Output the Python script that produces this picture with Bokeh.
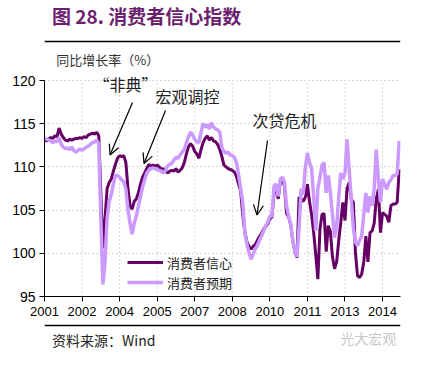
from bokeh.plotting import figure
from bokeh.layouts import column
from bokeh.models import Label, Arrow, OpenHead, Legend, LegendItem, FixedTicker, Range1d
from bokeh.embed import file_html
from bokeh.resources import INLINE

# ---- data (monthly, starting 2001-01) ----
tick_months = [0, 18, 36, 54, 72, 90, 108, 126, 144, 162]
tick_labels = ["2001", "2002", "2004", "2005", "2007", "2008", "2010", "2011", "2013", "2014"]
y_ticks = [95, 100, 105, 110, 115, 120]

confidence = [
    113.1, 113.0, 113.2, 113.4, 113.3, 113.6, 113.5, 114.5, 113.8, 113.4,
    113.1, 113.0, 113.2, 113.1, 113.2, 113.3, 113.3, 113.4, 113.3, 113.5,
    113.4, 113.7, 113.8, 113.9, 113.8, 114.0, 113.6, 107.0, 100.6, 104.0,
    107.5, 108.2, 108.6, 109.5, 110.3, 111.0, 111.3, 111.2, 111.3, 110.5,
    107.5, 105.5, 105.1, 106.0, 106.3, 107.0, 108.0, 108.8, 109.3, 109.8,
    110.3, 110.1, 110.2, 110.1, 110.2, 110.0, 109.7, 109.8, 109.5, 109.3,
    109.5, 109.6, 109.5, 109.8, 109.4, 109.6, 109.9, 110.5, 111.5, 112.3,
    112.7, 112.4, 111.8, 111.5, 111.0, 112.0, 112.8, 113.3, 113.6, 113.1,
    113.4, 113.0, 112.9, 112.6, 112.0, 111.2, 110.2, 110.0, 109.8, 109.7,
    109.6, 109.4, 108.9, 108.0, 107.2, 104.5, 102.5, 101.3, 100.8, 100.5,
    100.8, 101.0, 101.5, 101.9, 102.3, 102.8, 103.1, 103.4, 104.0, 104.2,
    107.0, 107.6, 106.3, 108.3, 108.5, 107.8, 104.6, 104.2, 103.3, 101.4,
    100.2, 99.5, 106.5, 106.3, 106.0, 106.5, 108.0, 106.0, 104.5, 102.4,
    99.8, 97.0, 102.8, 104.5, 104.6, 100.2, 103.2, 102.5, 99.6, 98.2,
    99.0, 101.5, 103.6, 105.9, 103.8, 107.5, 108.2, 106.3, 105.9, 100.1,
    97.4, 97.2, 97.6, 99.0, 102.0, 99.0, 102.4, 102.6, 103.5, 106.3,
    107.4, 102.4, 104.7, 104.5, 104.3, 103.6, 105.5, 105.7, 105.7, 105.9, 109.7,
]

expectation = [
    113.3, 113.2, 113.1, 113.0, 112.8, 113.0, 112.9, 113.4, 112.6, 112.3,
    112.1, 112.2, 112.0, 112.3, 111.9, 111.7, 111.9, 112.1, 111.9, 112.1,
    112.3, 112.4, 112.6, 112.8, 112.9, 113.1, 112.7, 104.0, 96.4, 99.0,
    104.0, 106.0, 106.8, 108.0, 109.0, 109.0, 108.8, 108.5, 108.3, 107.4,
    105.0, 103.5, 102.2, 103.5, 104.3, 105.5, 106.6, 107.7, 108.5, 109.3,
    109.6, 109.8, 109.9, 109.8, 109.7, 109.6, 109.5, 109.3, 109.6, 110.1,
    110.3, 110.4, 110.8, 111.1, 111.0, 111.4, 111.7, 112.0, 112.8, 113.5,
    114.0, 113.7, 113.2, 112.9, 112.8, 114.0, 115.0, 114.6, 114.9, 114.4,
    115.1, 114.6, 114.4, 114.3, 114.0, 112.2, 111.8, 111.6, 111.7, 111.4,
    111.3, 111.1, 110.5, 109.1, 107.5, 105.9, 102.5, 101.0, 100.1, 99.3,
    99.9, 100.5, 100.9, 101.5, 102.0, 102.6, 103.2, 103.6, 104.3, 104.3,
    107.8, 108.0, 106.6, 108.6, 108.8, 108.2, 105.5, 104.3, 103.4, 101.5,
    100.3, 99.6, 103.0, 107.5, 106.8, 110.0, 111.6, 110.5, 109.8, 106.5,
    102.6, 107.5, 108.8, 110.2, 110.5, 107.0, 109.0, 107.0, 104.5, 101.8,
    103.0, 106.5, 109.3, 108.6, 109.3, 113.2, 109.7, 106.3, 103.0, 101.3,
    100.9, 101.5, 102.0, 104.5, 107.0, 104.7, 106.6, 105.5, 107.5, 112.0,
    108.6, 105.9, 108.6, 108.0, 107.4, 108.2, 108.5, 109.0, 109.0, 109.2, 113.0,
]

months = list(range(len(confidence)))

DARK = "#660066"
LIGHT = "#CC99FF"
CJK = "Noto Sans CJK SC"
W = 427

# page-pixel geometry
FL, FR, FB = 52, 408, 304          # plot frame left/right/bottom (page px)
Y120 = 88                           # page y of the 120 line
MAIN_TOP, MAIN_BOT = 80, 331        # main figure vertical extent (page px)
X0, X1 = 0, 170.6
PX_PER_UNIT = (FB - Y120) / 25.0
Y_TOP = 120 + (Y120 - MAIN_TOP) / PX_PER_UNIT


def dx(px):
    return X0 + (px - FL) * (X1 - X0) / (FR - FL)


def dy(py):
    return 95 + (FB - py) / PX_PER_UNIT


def page_fig(top, bot):
    f = figure(width=W, height=bot - top, output_backend="svg", toolbar_location=None,
               x_range=Range1d(8, 8 + W), y_range=Range1d(bot, top),
               min_border=0, min_border_left=0, min_border_right=0,
               min_border_top=0, min_border_bottom=0)
    f.axis.visible = False
    f.grid.visible = False
    f.outline_line_color = None
    f.background_fill_color = "white"
    f.border_fill_color = "white"
    return f


# ---- header ----
head = page_fig(8, MAIN_TOP)
head.add_layout(Label(x=17, y=23, text="图 28.  消费者信心指数", text_font=CJK,
                      text_font_size="19px", text_font_style="bold", text_color="#6B1F6E",
                      text_baseline="middle", text_align="left"))
head.add_layout(Arrow(end=None, x_start=8, y_start=49, x_end=435, y_end=49,
                      line_color="black", line_width=1.5))
head.add_layout(Label(x=22, y=67, text="同比增长率（%）", text_font=CJK,
                      text_font_size="13px", text_color="#333333",
                      text_baseline="middle", text_align="left"))

# ---- main chart ----
p = figure(width=W, height=MAIN_BOT - MAIN_TOP, output_backend="svg", toolbar_location=None,
           x_range=Range1d(X0, X1), y_range=Range1d(95, Y_TOP),
           min_border_left=FL - 8, min_border_right=8 + W - FR, min_border_top=0,
           min_border_bottom=MAIN_BOT - FB)
p.outline_line_color = None
p.background_fill_color = "white"
p.border_fill_color = "white"

# dotted grid (vertical lines stop at 120)
p.segment(x0=tick_months[1:], y0=[95] * (len(tick_months) - 1), x1=tick_months[1:],
          y1=[120] * (len(tick_months) - 1), line_color="#b0b0b0", line_dash="1 3", line_width=1)
p.xgrid.visible = False
p.ygrid.ticker = FixedTicker(ticks=y_ticks[1:])
p.ygrid.grid_line_color = "#b0b0b0"
p.ygrid.grid_line_dash = "1 3"

r1 = p.line(months, confidence, line_color=DARK, line_width=3)
r2 = p.line(months, expectation, line_color=LIGHT, line_width=3.5)

p.xaxis.ticker = FixedTicker(ticks=tick_months)
p.xaxis.major_label_overrides = {m: l for m, l in zip(tick_months, tick_labels)}
p.yaxis.ticker = FixedTicker(ticks=y_ticks)
p.yaxis.bounds = (95, 120)
for ax in (p.xaxis[0], p.yaxis[0]):
    ax.axis_line_color = "black"
    ax.major_tick_line_color = "black"
    ax.major_tick_out = 5
    ax.major_tick_in = 0
    ax.minor_tick_line_color = None
    ax.major_label_text_font = "Liberation Sans"
    ax.major_label_text_color = "black"
p.xaxis.major_label_text_font_size = "13px"
p.yaxis.major_label_text_font_size = "14px"
p.xaxis.major_label_standoff = 5
p.yaxis.major_label_standoff = 4

legend = Legend(items=[LegendItem(label="消费者信心", renderers=[r1]),
                       LegendItem(label="消费者预期", renderers=[r2])],
                location=(135 - FL, FB - 300), padding=0, margin=0, spacing=0,
                glyph_width=36, glyph_height=20, label_height=20, label_standoff=4,
                label_text_font=CJK, label_text_font_size="13px", label_text_color="#222222",
                border_line_color=None, background_fill_alpha=0)
p.add_layout(legend, "center")

ann = [
    ("“非典”", 133, 91, (140, 110), (117.5, 162.5)),
    ("宏观调控", 195, 103, (173, 118), (151.5, 171)),
    ("次贷危机", 292, 127, (275, 148), (264.5, 222.5)),
]
for txt, tx, ty, (sx, sy), (ex, ey) in ann:
    p.add_layout(Label(x=dx(tx), y=dy(ty), text=txt, text_font=CJK, text_font_size="16px",
                       text_color="#222222", text_align="center", text_baseline="middle"))
    p.add_layout(Arrow(end=OpenHead(size=10, line_width=1.2, line_color="black"),
                       x_start=dx(sx), y_start=dy(sy), x_end=dx(ex), y_end=dy(ey),
                       line_color="black", line_width=1.2))

# ---- footer ----
foot = page_fig(MAIN_BOT, 359)
foot.add_layout(Arrow(end=None, x_start=8, y_start=333, x_end=435, y_end=333,
                      line_color="black", line_width=1.5))
foot.add_layout(Label(x=17, y=347, text="资料来源：Wind", text_font=CJK,
                      text_font_size="14px", text_color="#222222",
                      text_baseline="middle", text_align="left"))
foot.add_layout(Label(x=430, y=345, text="光大宏观", text_font=CJK,
                      text_font_size="14px", text_color="#c8c8c8",
                      text_baseline="middle", text_align="right"))

layout = column(head, p, foot, spacing=0)
open("out.html", "w").write(file_html(layout, INLINE))
